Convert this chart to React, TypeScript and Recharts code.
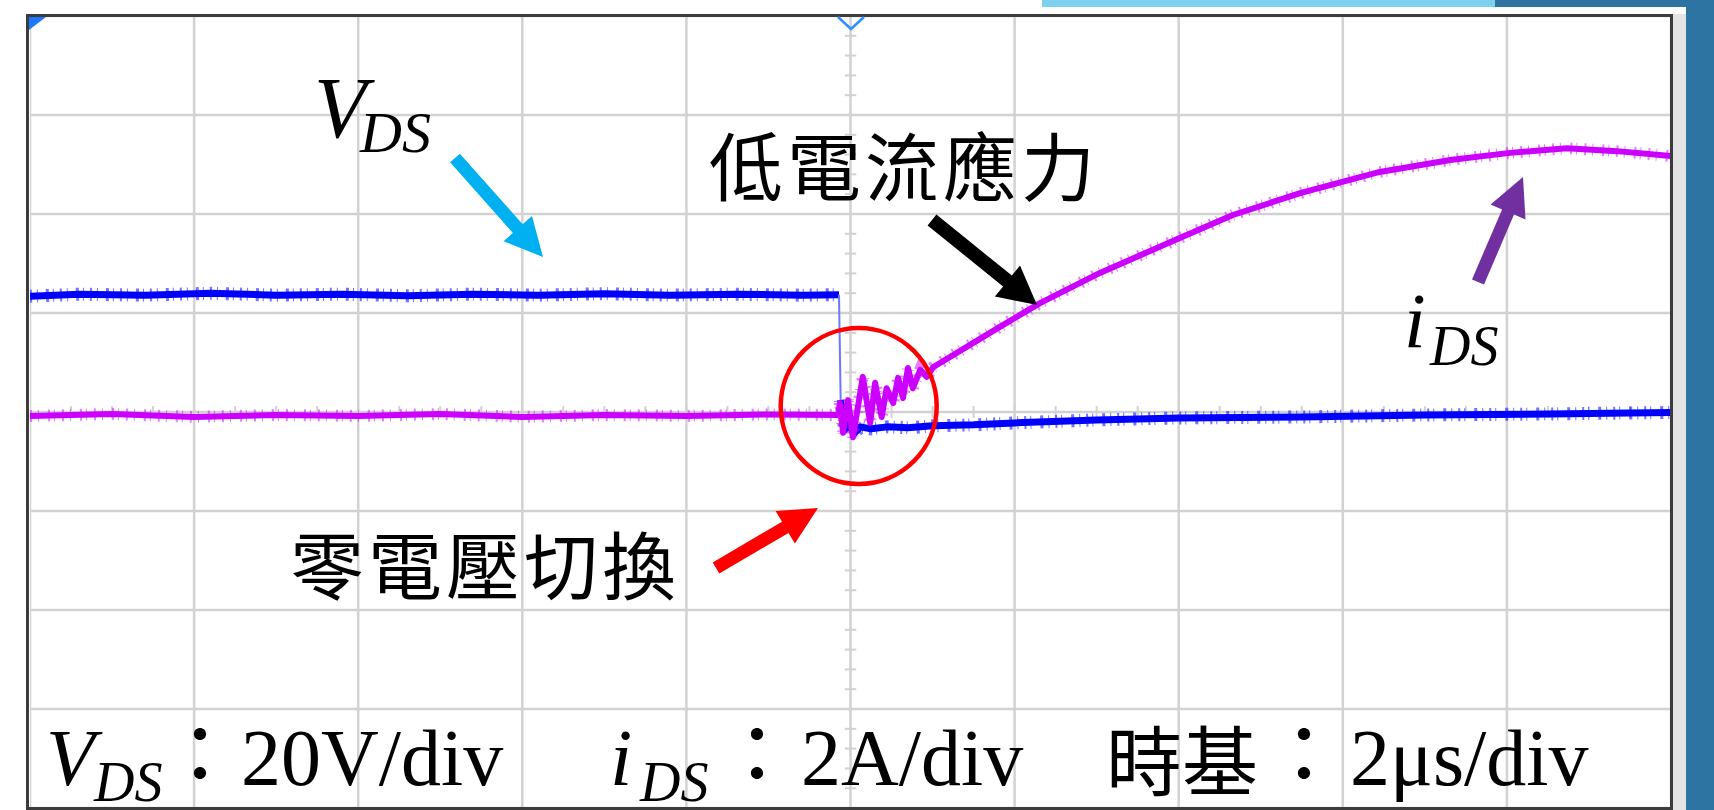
import React from 'react';
import {
  LineChart, Line, XAxis, YAxis, CartesianGrid, ReferenceDot, ReferenceLine
} from 'recharts';

// time in µs (2 µs/div), V_DS in V (20 V/div), i_DS in A (2 A/div)
const TIME_TICKS = [0, 2, 4, 6, 8, 10, 12, 14, 16, 18, 20];
const VOLT_TICKS = [-80, -60, -40, -20, 0, 20, 40, 60, 80];

// V_DS before turn-on
const VDS_HIGH: [number, number][] = [
  [0, 23.4], [0.6, 23.8], [1.4, 23.6], [2.2, 24.0], [3.0, 23.6], [3.8, 23.8],
  [4.6, 23.5], [5.4, 23.8], [6.2, 23.6], [7.0, 23.9], [7.8, 23.6], [8.6, 23.8],
  [9.4, 23.6], [9.86, 23.7],
];
// the falling edge (drawn thin)
const VDS_EDGE: [number, number][] = [[9.86, 23.7], [9.88, 2.4]];
// V_DS after turn-on
const VDS_LOW: [number, number][] = [
  [9.88, 2.4], [9.93, -3.6], [9.98, -2.2], [10.04, -4.4], [10.12, -3.0], [10.25, -3.4],
  [10.45, -3.0], [10.7, -3.2], [11.0, -2.8], [11.5, -2.6], [12.0, -2.2], [13.0, -1.6],
  [14.0, -1.2], [15.5, -1.0], [17.0, -0.6], [18.5, -0.4], [20, -0.1],
];
// i_DS
const IDS: [number, number][] = [
  [0, -0.08], [1, -0.04], [2, -0.1], [3, -0.06], [4, -0.08], [5, -0.04], [6, -0.1],
  [7, -0.06], [8, -0.08], [9, -0.05], [9.85, -0.06],
  [9.87, 0.18], [9.91, -0.42], [9.97, 0.24], [10.03, -0.51], [10.15, 0.71], [10.24, -0.22],
  [10.3, 0.59], [10.38, -0.1], [10.44, 0.48], [10.52, 0.18], [10.58, 0.69], [10.64, 0.28],
  [10.7, 0.89], [10.76, 0.48], [10.85, 0.85], [10.93, 0.71], [11.01, 0.91],
  [11.82, 1.72], [12.31, 2.2], [13.04, 2.81], [14.02, 3.52], [14.66, 3.98], [15.48, 4.42],
  [16.45, 4.85], [17.31, 5.09], [18.01, 5.23], [18.73, 5.33], [19.34, 5.27], [20, 5.17],
];

const toV = (pts: [number, number][]) => pts.map(([t, v]) => ({ t, v }));
const toI = (pts: [number, number][]) => pts.map(([t, i]) => ({ t, i }));

// graticule minor ticks on the centre cross
const MINOR_T = Array.from({ length: 41 }, (_, k) => k * 0.5);
const MINOR_V = Array.from({ length: 41 }, (_, k) => -80 + k * 4);

const BLUE = '#0000ff';
const PINK = '#cc00ff';
const GRID = '#d2d2d2';

function arrow(x1: number, y1: number, x2: number, y2: number, shaft = 13, head = 38, headLen = 38) {
  const dx = x2 - x1, dy = y2 - y1;
  const L = Math.hypot(dx, dy);
  const ux = dx / L, uy = dy / L;
  const px = -uy, py = ux;
  const bx = x2 - ux * headLen, by = y2 - uy * headLen;
  const p = (x: number, y: number) => `${x.toFixed(1)},${y.toFixed(1)}`;
  return [
    p(x1 + px * shaft / 2, y1 + py * shaft / 2),
    p(bx + px * shaft / 2, by + py * shaft / 2),
    p(bx + px * head / 2, by + py * head / 2),
    p(x2, y2),
    p(bx - px * head / 2, by - py * head / 2),
    p(bx - px * shaft / 2, by - py * shaft / 2),
    p(x1 - px * shaft / 2, y1 - py * shaft / 2),
  ].join(' ');
}

const serif = '"Liberation Serif", "Times New Roman", serif';
const cjk = '"Noto Sans CJK TC", "Noto Sans CJK SC", sans-serif';

const App: React.FC = () => {
  return (
    <div style={{ position: 'fixed', left: 0, top: 0, width: 1714, height: 810, background: '#fff', overflow: 'hidden' }}>
      {/* slide decoration */}
      <div style={{ position: 'absolute', left: 1042, top: 0, width: 453, height: 7, background: '#7dd0ee' }} />
      <div style={{ position: 'absolute', left: 1495, top: 0, width: 219, height: 7, background: '#2e74a2' }} />
      <div style={{ position: 'absolute', left: 1673, top: 14, width: 13, height: 796, background: '#e3e3e3' }} />
      <div style={{ position: 'absolute', left: 1686, top: 0, width: 28, height: 810, background: '#2e74a2' }} />

      <div style={{ position: 'absolute', left: 30, top: 16 }}>
        <LineChart width={1641} height={792} margin={{ top: 0, right: 0, bottom: 0, left: 0 }}>
          <XAxis type="number" dataKey="t" domain={[0, 20]} ticks={TIME_TICKS} hide allowDataOverflow />
          <YAxis yAxisId="v" type="number" domain={[-80, 80]} ticks={VOLT_TICKS} hide allowDataOverflow />
          <YAxis yAxisId="i" type="number" domain={[-8, 8]} hide allowDataOverflow />
          <CartesianGrid yAxisId="v" stroke={GRID} strokeWidth={2.5} />
          {MINOR_V.map(v => (
            <ReferenceLine key={`mv${v}`} yAxisId="v" stroke={GRID} strokeWidth={2}
              segment={[{ x: 9.93, y: v }, { x: 10.07, y: v }]} />
          ))}
          {MINOR_T.map(t => (
            <ReferenceLine key={`mt${t}`} yAxisId="v" stroke={GRID} strokeWidth={2}
              segment={[{ x: t, y: -1.2 }, { x: t, y: 1.2 }]} />
          ))}

          {/* V_DS */}
          <Line yAxisId="v" data={toV(VDS_HIGH)} dataKey="v" stroke={BLUE} strokeWidth={13}
            strokeDasharray="2 5 1 8 3 4 1 6" strokeOpacity={0.55} dot={false} isAnimationActive={false} />
          <Line yAxisId="v" data={toV(VDS_HIGH)} dataKey="v" stroke={BLUE} strokeWidth={7} dot={false} isAnimationActive={false} />
          <Line yAxisId="v" data={toV(VDS_EDGE)} dataKey="v" stroke="#6a78ff" strokeWidth={2} dot={false} isAnimationActive={false} />
          <Line yAxisId="v" data={toV(VDS_LOW)} dataKey="v" stroke={BLUE} strokeWidth={13}
            strokeDasharray="1 6 2 4 1 9 3 5" strokeOpacity={0.55} dot={false} isAnimationActive={false} />
          <Line yAxisId="v" data={toV(VDS_LOW)} dataKey="v" stroke={BLUE} strokeWidth={7} strokeLinejoin="round" dot={false} isAnimationActive={false} />

          {/* i_DS */}
          <Line yAxisId="i" data={toI(IDS)} dataKey="i" stroke={PINK} strokeWidth={12}
            strokeDasharray="2 6 1 9 2 4 1 7" strokeOpacity={0.5} dot={false} isAnimationActive={false} />
          <Line yAxisId="i" data={toI(IDS)} dataKey="i" stroke={PINK} strokeWidth={6} strokeLinejoin="round" dot={false} isAnimationActive={false} />

          {/* zero-voltage switching mark */}
          <ReferenceDot yAxisId="v" x={10.1} y={1.2} r={78} fill="none" stroke="#ff0000" strokeWidth={4.5} />
        </LineChart>
      </div>

      {/* frame */}
      <div style={{ position: 'absolute', left: 26, top: 14, width: 1647, height: 796, border: '3px solid #3c3c3c', boxSizing: 'border-box' }} />

      <svg width={1714} height={810} style={{ position: 'absolute', left: 0, top: 0, pointerEvents: 'none' }}>
        {/* scope markers */}
        <polygon points="29,17 46,17 29,30" fill="#1e78ff" />
        <polyline points="838,17 851,29 864,17" fill="none" stroke="#2f8fff" strokeWidth={2.5} />

        {/* labels */}
        <text x={314} y={137} fontFamily={serif} fontStyle="italic" fontSize={86}>V</text>
        <text x={360} y={152} fontFamily={serif} fontStyle="italic" fontSize={58}>DS</text>
        <polygon points={arrow(455, 158, 543, 257)} fill="#00b0f0" />

        <text x={709} y={195} fontFamily={cjk} fontSize={74} letterSpacing={4}>低電流應力</text>
        <polygon points={arrow(932, 220, 1037, 305, 14, 40, 38)} fill="#000" />

        <text x={290} y={594} fontFamily={cjk} fontSize={74} letterSpacing={4}>零電壓切換</text>
        <polygon points={arrow(716, 568, 818, 508)} fill="#ff0000" />

        <text x={1404} y={347} fontFamily={serif} fontStyle="italic" fontSize={78}>i</text>
        <text x={1430} y={365} fontFamily={serif} fontStyle="italic" fontSize={56}>DS</text>
        <polygon points={arrow(1478, 282, 1523, 177)} fill="#7030a0" />

        {/* scale settings */}
        <text x={46} y={785} fontFamily={serif} fontStyle="italic" fontSize={80}>V</text>
        <text x={94} y={801} fontFamily={serif} fontStyle="italic" fontSize={56}>DS</text>
        <text x={160} y={783} fontFamily={cjk} fontSize={80}>：</text>
        <text x={241} y={785} fontFamily={serif} fontSize={80}>20V/div</text>

        <text x={610} y={785} fontFamily={serif} fontStyle="italic" fontSize={80}>i</text>
        <text x={640} y={801} fontFamily={serif} fontStyle="italic" fontSize={56}>DS</text>
        <text x={717} y={783} fontFamily={cjk} fontSize={80}>：</text>
        <text x={801} y={785} fontFamily={serif} fontSize={80}>2A/div</text>

        <text x={1106} y={790} fontFamily={cjk} fontSize={76}>時基</text>
        <text x={1264} y={783} fontFamily={cjk} fontSize={80}>：</text>
        <text x={1350} y={785} fontFamily={serif} fontSize={80}>2μs/div</text>
      </svg>
    </div>
  );
};

export default App;
